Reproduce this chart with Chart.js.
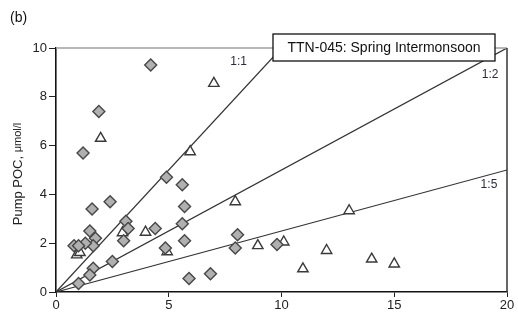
<!DOCTYPE html>
<html>
<head>
<meta charset="utf-8">
<script src="https://cdn.jsdelivr.net/npm/chart.js@4"></script>
<style>
  html, body { margin: 0; padding: 0; background: #fff; }
  #wrap { width: 518px; height: 320px; }
</style>
</head>
<body>
<div id="wrap"><canvas id="pocChart" width="518" height="320"></canvas></div>
<script>
// === Data ===
const diamondX = [4.2, 1.9, 1.2, 4.9, 5.6, 2.4, 1.6, 5.7, 3.1, 3.2, 3.0, 4.4, 5.6, 5.7, 1.5,
                  1.75, 1.65, 1.3, 0.8, 1.0, 2.5, 1.65, 1.5, 1.0, 4.85, 5.9, 6.85, 8.05, 7.95, 9.8];
const diamondY = [9.3, 7.4, 5.7, 4.7, 4.4, 3.7, 3.4, 3.5, 2.9, 2.6, 2.1, 2.6, 2.8, 2.1, 2.5,
                  2.2, 1.9, 2.0, 1.9, 1.9, 1.25, 0.97, 0.7, 0.35, 1.8, 0.55, 0.75, 2.35, 1.8, 1.95];
const triangleX = [1.98, 7.0, 5.95, 0.92, 1.06, 2.95, 3.97, 4.93, 7.95, 8.95, 10.1, 10.95, 12.0, 13.0, 14.0, 15.0];
const triangleY = [6.3, 8.55, 5.75, 1.52, 1.62, 2.43, 2.45, 1.65, 3.7, 1.9, 2.05, 0.95, 1.7, 3.33, 1.35, 1.15];

// reference lines: [x0, y0, x1, y1]
const lineNames = ['1:1', '1:2', '1:5'];
const lineEnds = [[0, 0, 10, 10], [0, 0, 20, 10], [0, 0, 20, 5]];
const lineLabelAt = [[8.1, 9.45], [19.25, 8.9], [19.2, 4.4]];

const xTicks = [0, 5, 10, 15, 20];
const yTicks = [0, 2, 4, 6, 8, 10];
const panelTag = '(b)';
const boxText = 'TTN-045: Spring Intermonsoon';
const yTitleMain = 'Pump POC, ';
const yTitleUnit = '\u03bcmol/l';

const FONT = '"Liberation Sans", Arial, sans-serif';

function toPoints(xs, ys) {
    return xs.map((x, i) => ({ x: x, y: ys[i] }));
}

const datasets = [
    {
        label: 'diamonds',
        data: toPoints(diamondX, diamondY),
        pointStyle: 'rectRot',
        pointRadius: 6,
        backgroundColor: '#b0b0b0',
        borderColor: '#474747',
        borderWidth: 1.4,
        order: 0
    },
    {
        label: 'triangles',
        data: toPoints(triangleX, triangleY),
        pointStyle: 'triangle',
        pointRadius: 6,
        backgroundColor: '#ffffff',
        borderColor: '#3a3a3a',
        borderWidth: 1.4,
        order: 0
    }
];
lineEnds.forEach((e, i) => {
    datasets.push({
        label: lineNames[i],
        type: 'line',
        data: [{ x: e[0], y: e[1] }, { x: e[2], y: e[3] }],
        borderColor: '#333333',
        borderWidth: 1.2,
        pointRadius: 0,
        fill: false,
        order: 1
    });
});

// === Extra drawing: frame, tag, text box, line labels, y title ===
const decorPlugin = {
    id: 'decor',
    afterDatasetsDraw(chart) {
        const { ctx, chartArea: a, scales } = chart;
        ctx.save();
        // top gray rule and right dark rule
        ctx.strokeStyle = '#a0a0a0';
        ctx.lineWidth = 1.5;
        ctx.beginPath();
        ctx.moveTo(a.left, a.top);
        ctx.lineTo(a.right, a.top);
        ctx.stroke();
        ctx.strokeStyle = '#333';
        ctx.beginPath();
        ctx.moveTo(a.right, a.top);
        ctx.lineTo(a.right, a.bottom);
        ctx.stroke();

        // line labels
        ctx.fillStyle = '#2b2b3a';
        ctx.font = '12px ' + FONT;
        ctx.textAlign = 'center';
        ctx.textBaseline = 'middle';
        lineLabelAt.forEach((p, i) => {
            ctx.fillText(lineNames[i], scales.x.getPixelForValue(p[0]), scales.y.getPixelForValue(p[1]));
        });

        // title box
        ctx.fillStyle = '#fff';
        ctx.fillRect(273, 34, 222, 27);
        ctx.strokeStyle = '#111';
        ctx.lineWidth = 1.3;
        ctx.strokeRect(273, 34, 222, 27);
        ctx.fillStyle = '#111';
        ctx.font = '14px ' + FONT;
        ctx.fillText(boxText, 384, 48);

        // panel tag
        ctx.textAlign = 'left';
        ctx.font = '14px ' + FONT;
        ctx.fillText(panelTag, 10, 18);

        // y axis title, unit in a smaller size
        ctx.translate(18, (a.top + a.bottom) / 2 + 4);
        ctx.rotate(-Math.PI / 2);
        ctx.font = '13px ' + FONT;
        const w1 = ctx.measureText(yTitleMain).width;
        ctx.font = '11px ' + FONT;
        const w2 = ctx.measureText(yTitleUnit).width;
        const start = -(w1 + w2) / 2;
        ctx.fillStyle = '#222';
        ctx.font = '13px ' + FONT;
        ctx.fillText(yTitleMain, start, 0);
        ctx.font = '11px ' + FONT;
        ctx.fillText(yTitleUnit, start + w1, 0);
        ctx.restore();
    }
};

const ctx = document.getElementById('pocChart').getContext('2d');
new Chart(ctx, {
    type: 'scatter',
    data: { datasets: datasets },
    options: {
        responsive: false,
        animation: false,
        layout: { padding: { left: 0, right: 11, top: 48, bottom: 0 } },
        plugins: {
            legend: { display: false },
            tooltip: { enabled: false }
        },
        scales: {
            x: {
                type: 'linear',
                min: 0,
                max: 20,
                afterBuildTicks: (s) => { s.ticks = xTicks.map(v => ({ value: v })); },
                afterFit: (s) => { s.height = 28; },
                grid: { drawOnChartArea: false, drawTicks: true, tickLength: 5, color: '#222', lineWidth: 1 },
                border: { color: '#111', width: 1.6 },
                ticks: { color: '#222', font: { family: FONT, size: 13 }, padding: 1, maxRotation: 0 }
            },
            y: {
                type: 'linear',
                min: 0,
                max: 10,
                afterBuildTicks: (s) => { s.ticks = yTicks.map(v => ({ value: v })); },
                afterFit: (s) => { s.width = 56; },
                grid: { drawOnChartArea: false, drawTicks: true, tickLength: 7, color: '#222', lineWidth: 1 },
                border: { color: '#111', width: 1.6 },
                ticks: { color: '#222', font: { family: FONT, size: 13 }, padding: 2 }
            }
        }
    },
    plugins: [decorPlugin]
});
</script>
</body>
</html>
